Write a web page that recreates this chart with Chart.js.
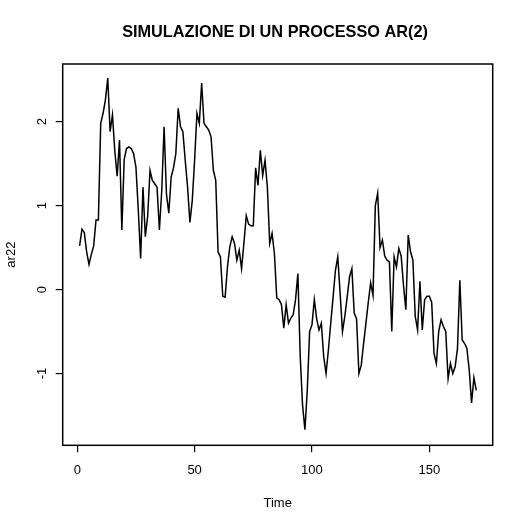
<!DOCTYPE html>
<html>
<head>
<meta charset="utf-8">
<script src="https://cdn.jsdelivr.net/npm/chart.js@4"></script>
<style>
  body { margin: 0; background: #fff; }
  canvas { display: block; }
</style>
</head>
<body>
<canvas id="myChart" width="528" height="528"></canvas>
<script>
var chartTitle = 'SIMULAZIONE DI UN PROCESSO AR(2)';
var xLabel = 'Time';
var yLabel = 'ar22';

// series starts at t = 1, one value per time step
var timeStart = 1;
var ar22 = [
  0.52, 0.72, 0.68, 0.45, 0.30, 0.42, 0.52, 0.83, 0.83, 1.98,
  2.10, 2.26, 2.52, 1.88, 2.08, 1.65, 1.35, 1.78, 0.71, 1.55,
  1.68, 1.70, 1.68, 1.62, 1.46, 0.95, 0.37, 1.22, 0.63, 0.87,
  1.42, 1.30, 1.26, 1.22, 0.71, 1.18, 1.94, 1.14, 0.91, 1.34,
  1.45, 1.62, 2.16, 1.94, 1.88, 1.54, 1.22, 0.80, 1.06, 1.54,
  2.10, 1.98, 2.46, 1.98, 1.94, 1.90, 1.82, 1.42, 1.30, 0.45,
  0.39, -0.08, -0.09, 0.27, 0.51, 0.63, 0.55, 0.35, 0.47, 0.25,
  0.55, 0.88, 0.78, 0.76, 0.76, 1.45, 1.24, 1.66, 1.36, 1.54,
  1.22, 0.55, 0.67, 0.43, -0.10, -0.12, -0.18, -0.46, -0.18, -0.40,
  -0.34, -0.30, -0.12, 0.19, -0.80, -1.38, -1.67, -1.20, -0.50, -0.42,
  -0.12, -0.35, -0.48, -0.40, -0.80, -1.00, -0.72, -0.40, -0.09, 0.23,
  0.39, -0.05, -0.50, -0.32, -0.09, 0.15, 0.25, -0.28, -0.35, -1.00,
  -0.90, -0.64, -0.40, -0.15, 0.08, -0.07, 1.00, 1.15, 0.50, 0.59,
  0.40, 0.35, 0.33, -0.50, 0.39, 0.27, 0.49, 0.40, 0.05, -0.24,
  0.65, 0.45, 0.35, -0.32, -0.48, 0.10, -0.48, -0.12, -0.08, -0.08,
  -0.15, -0.76, -0.88, -0.50, -0.36, -0.44, -0.50, -1.06, -0.88, -1.00,
  -0.92, -0.70, 0.11, -0.60, -0.64, -0.70, -0.96, -1.35, -1.05, -1.20
];
var xTicks = [0, 50, 100, 150];
var yTicks = [-1, 0, 1, 2];

var points = ar22.map(function(v, i) { return {x: timeStart + i, y: v}; });

// frame, title and the rotated y labels the way R draws them
var rStyle = {
  id: 'rStyle',
  afterDraw: function(chart) {
    var ctx = chart.ctx, a = chart.chartArea;
    ctx.save();
    ctx.strokeStyle = '#000';
    ctx.lineWidth = 1.5;
    ctx.strokeRect(a.left, a.top, a.right - a.left, a.bottom - a.top);

    ctx.fillStyle = '#000';
    ctx.textAlign = 'center';
    ctx.textBaseline = 'middle';
    ctx.font = 'bold 16.3px "Liberation Sans", Arial, sans-serif';
    ctx.fillText(chartTitle, 275, 33);

    ctx.font = '13px "Liberation Sans", Arial, sans-serif';
    yTicks.forEach(function(v) {
      var y = chart.scales.y.getPixelForValue(v);
      ctx.save();
      ctx.translate(42, y);
      ctx.rotate(-Math.PI / 2);
      ctx.fillText(String(v), 0, 0);
      ctx.restore();
    });
    ctx.restore();
  }
};

var ctx = document.getElementById('myChart').getContext('2d');
var chart = new Chart(ctx, {
  type: 'line',
  data: {
    datasets: [{
      label: yLabel,
      data: points,
      borderColor: '#000',
      borderWidth: 1.5,
      pointRadius: 0,
      tension: 0,
      fill: false
    }]
  },
  options: {
    responsive: false,
    animation: false,
    layout: { padding: { top: 64, right: 35.3 } },
    plugins: {
      legend: { display: false },
      tooltip: { enabled: false },
      title: { display: false }
    },
    scales: {
      x: {
        type: 'linear',
        min: -6.2,
        max: 177.0,
        afterBuildTicks: function(s) { s.ticks = xTicks.map(function(v) { return {value: v}; }); },
        afterFit: function(s) { s.height = 82.7; },
        grid: { drawOnChartArea: false, tickLength: 7, color: '#000', lineWidth: 1.2 },
        border: { display: false },
        ticks: {
          color: '#000',
          font: { family: '"Liberation Sans", Arial, sans-serif', size: 13 },
          padding: 10,
          maxRotation: 0,
          autoSkip: false
        },
        title: {
          display: true,
          text: xLabel,
          color: '#000',
          font: { family: '"Liberation Sans", Arial, sans-serif', size: 13 },
          padding: { top: 0, bottom: 17 }
        }
      },
      y: {
        min: -1.855,
        max: 2.687,
        afterBuildTicks: function(s) { s.ticks = yTicks.map(function(v) { return {value: v}; }); },
        afterFit: function(s) { s.width = 62.7; },
        grid: { drawOnChartArea: false, tickLength: 7, color: '#000', lineWidth: 1.2 },
        border: { display: false },
        ticks: { display: false },
        title: {
          display: true,
          text: yLabel,
          color: '#000',
          font: { family: '"Liberation Sans", Arial, sans-serif', size: 13 },
          padding: { top: 4, bottom: 0 }
        }
      }
    }
  },
  plugins: [rStyle]
});
</script>
</body>
</html>
